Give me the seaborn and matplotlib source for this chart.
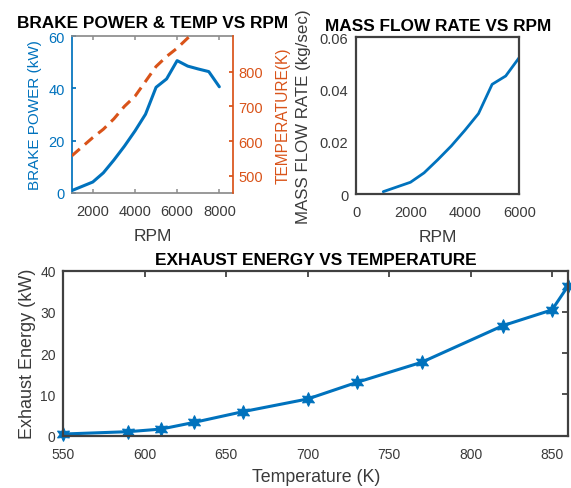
import numpy as np
import pandas as pd
import matplotlib
matplotlib.use("Agg")
import matplotlib.pyplot as plt
import seaborn as sns

# ---- data ----
rpm = [1000, 2000, 2500, 3000, 3500, 4000, 4500, 5000, 5500, 6000, 6500, 7000, 7500, 8000]
brake_power = [0.9, 4.2, 7.7, 12.6, 17.9, 23.7, 30.1, 40.4, 43.6, 50.6, 48.5, 47.4, 46.4, 40.6]
temperature = [557, 610, 634, 664, 700, 729, 772, 815, 844, 868, 897, 925, 950, 975]

rpm_mf = [1000, 2000, 2500, 3000, 3500, 4000, 4500, 5000, 5500, 6000]
mass_flow = [0.0009, 0.0045, 0.0081, 0.0131, 0.0184, 0.0244, 0.0308, 0.0420, 0.0452, 0.0523]

exh_temp = [550, 590, 610, 630, 660, 700, 730, 770, 820, 850, 860]
exh_energy = [0.4, 0.97, 1.6, 3.2, 5.8, 8.9, 12.9, 17.8, 26.7, 30.5, 36.4]

BLUE = "#0072BD"
ORANGE = "#D95319"
GRAY = "#3a3a3a"

sns.set_theme(style="white")
plt.rcParams['font.family'] = ['Liberation Sans', 'DejaVu Sans']
plt.rcParams['text.color'] = GRAY
plt.rcParams['axes.labelcolor'] = GRAY
plt.rcParams['xtick.color'] = GRAY
plt.rcParams['ytick.color'] = GRAY

TITLE_FS = 12.4

fig = plt.figure(figsize=(5.71, 4.89), dpi=100)

# ---- top-left: brake power & temp ----
ax1 = fig.add_axes([0.1256, 0.6033, 0.2825, 0.321])
df1 = pd.DataFrame({"rpm": rpm, "bp": brake_power, "T": temperature})
sns.lineplot(data=df1, x="rpm", y="bp", ax=ax1, color=BLUE, linewidth=2.2)
ax1.set_xlim(1000, 8650)
ax1.set_ylim(0, 60)
ax1.set_xticks([2000, 4000, 6000, 8000])
ax1.set_yticks([0, 20, 40, 60])
ax1.set_xlabel("RPM", fontsize=12.5, labelpad=7)
ax1.set_ylabel("BRAKE POWER (kW)", fontsize=11, color=BLUE, labelpad=4.5)
ax1.tick_params(axis='x', direction='in', top=True, bottom=True, labelsize=10.5,
                length=3, colors='#9a9a9a', labelcolor=GRAY, pad=8)
ax1.tick_params(axis='y', direction='in', left=True, right=False, labelsize=10.5,
                length=3, colors=BLUE, pad=5)
for sp in ['top', 'bottom']:
    ax1.spines[sp].set_color('#8c8c8c')
ax1.spines['left'].set_color(BLUE)
ax1.spines['right'].set_visible(False)
ax1.set_title("BRAKE POWER & TEMP VS RPM", fontsize=TITLE_FS, fontweight='bold', color='black', pad=6.5)

ax2 = ax1.twinx()
sns.lineplot(data=df1, x="rpm", y="T", ax=ax2, color=ORANGE, linewidth=2.2)
ax2.lines[0].set_linestyle((0, (3.5, 2.2)))
ax2.set_ylim(450, 903)
ax2.set_yticks([500, 600, 700, 800])
ax2.set_ylabel("TEMPERATURE(K)", fontsize=11.2, color=ORANGE, labelpad=9)
ax2.tick_params(axis='y', direction='in', right=True, labelsize=10.5, length=3, colors=ORANGE, pad=4)
ax2.spines['right'].set_color(ORANGE)
ax2.spines['left'].set_visible(False)
ax2.spines['top'].set_visible(False)
ax2.spines['bottom'].set_visible(False)
ax2.set_xlabel("")

# ---- top-right: mass flow rate ----
ax3 = fig.add_axes([0.6235, 0.6012, 0.286, 0.3204])
df2 = pd.DataFrame({"rpm": rpm_mf, "mf": mass_flow})
sns.lineplot(data=df2, x="rpm", y="mf", ax=ax3, color=BLUE, linewidth=2.0)
ax3.set_xlim(0, 6000)
ax3.set_ylim(0, 0.06)
ax3.set_xticks([0, 2000, 4000, 6000])
ax3.set_yticks([0, 0.02, 0.04, 0.06])
ax3.set_yticklabels(["0", "0.02", "0.04", "0.06"])
ax3.set_xlabel("RPM", fontsize=12.5, labelpad=7)
ax3.set_ylabel("MASS FLOW RATE (kg/sec)", fontsize=12.2, labelpad=6)
ax3.tick_params(axis='x', direction='in', labelsize=10.5, length=0, pad=8)
ax3.tick_params(axis='y', direction='in', labelsize=10.5, length=0, pad=5.5)
for sp in ax3.spines.values():
    sp.set_color('#404040')
    sp.set_linewidth(1.6)
ax3.set_title("MASS FLOW RATE VS RPM", fontsize=TITLE_FS, fontweight='bold', color='black', pad=5)

# ---- bottom: exhaust energy ----
ax4 = fig.add_axes([0.1109, 0.107, 0.8844, 0.3374])
df3 = pd.DataFrame({"T": exh_temp, "E": exh_energy})
sns.lineplot(data=df3, x="T", y="E", ax=ax4, color=BLUE, linewidth=2.2,
             marker=(6, 1, 0), markersize=10, markeredgecolor=BLUE, clip_on=False)
ax4.set_xlim(550, 860)
ax4.set_ylim(0, 40)
ax4.set_xticks([550, 600, 650, 700, 750, 800, 850])
ax4.set_yticks([0, 10, 20, 30, 40])
ax4.set_xlabel("Temperature (K)", fontsize=12.8, labelpad=4.5)
ax4.set_ylabel("Exhaust Energy (kW)", fontsize=13, labelpad=3)
ax4.tick_params(axis='x', direction='in', labelsize=10, length=4, top=True, pad=8.5)
ax4.tick_params(axis='y', direction='in', labelsize=10, length=4, right=True, pad=5.5)
for sp in ax4.spines.values():
    sp.set_color('#404040')
    sp.set_linewidth(1.6)
ax4.set_title("EXHAUST ENERGY VS TEMPERATURE", fontsize=TITLE_FS, fontweight='bold', color='black', pad=5)

fig.savefig("out.png", dpi=100)
